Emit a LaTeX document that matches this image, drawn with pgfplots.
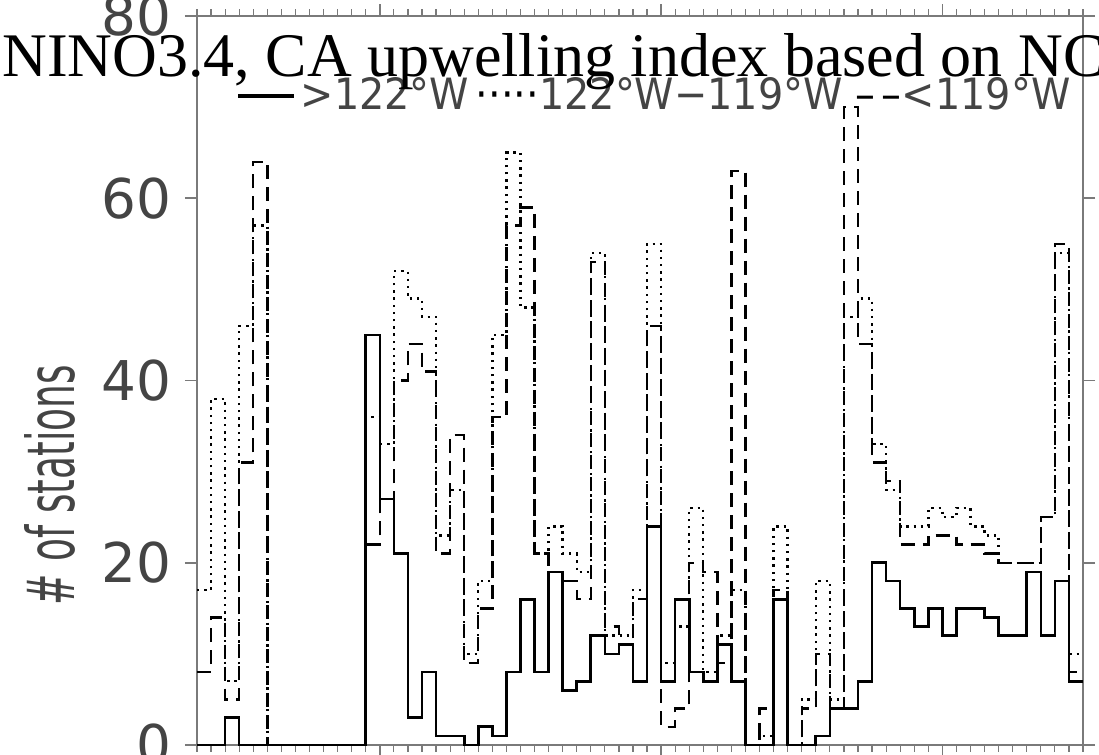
\documentclass[border=0pt]{standalone}
\usepackage{graphicx}
\usepackage{pgfplots}
\usepackage{pgfplotstable}
\pgfplotsset{compat=1.18}
\usepackage{fontspec}
\setmainfont{Liberation Serif}
\newfontfamily\dvs{DejaVu Sans}
\definecolor{framegray}{HTML}{7A7A7A}
\definecolor{labgray}{HTML}{444444}

\pgfplotstableread{
x solid dotted dashed
0 0 17 8
1 0 38 14
2 3 7 5
3 0 46 31
4 0 57 64
5 0 0 0
6 0 0 0
7 0 0 0
8 0 0 0
9 0 0 0
10 0 0 0
11 0 0 0
12 45 36 22
13 27 33 27
14 21 52 40
15 3 49 44
16 8 47 41
17 1 23 21
18 1 28 34
19 0 10 9
20 2 18 15
21 1 45 36
22 8 65 57
23 16 48 59
24 8 21 21
25 19 24 19
26 6 21 18
27 7 19 16
28 12 54 53
29 10 12 13
30 11 12 11
31 7 17 16
32 24 55 46
33 7 9 2
34 16 13 4
35 8 26 20
36 7 8 19
37 11 12 9
38 7 17 63
39 0 0 0
40 0 1 4
41 16 24 17
42 0 0 0
43 0 5 4
44 1 18 10
45 4 5 4
46 4 47 70
47 7 49 44
48 20 33 31
49 18 28 29
50 15 24 22
51 13 24 22
52 15 26 23
53 12 25 23
54 15 26 22
55 15 24 22
56 14 23 21
57 12 20 20
58 12 20 20
59 19 20 20
60 12 25 25
61 18 54 55
62 7 10 8
63 7 10 8
}\data

\begin{document}
\begin{tikzpicture}
\useasboundingbox (0,0) rectangle (549.5pt,377.5pt);
\begin{axis}[
  at={(98.5pt,5pt)}, anchor=south west,
  scale only axis, width=443pt, height=364.5pt,
  xmin=0, xmax=63, ymin=0, ymax=80,
  xtick={13,33,53}, xticklabels={},
  minor xtick={0,1,...,63},
  ytick={0,20,40,60,80},
  tick align=outside,
  major tick length=6pt, minor tick length=3.5pt,
  axis line style={framegray, line width=1.1pt},
  every tick/.style={framegray, line width=0.8pt},
  every minor tick/.style={framegray, line width=0.6pt},
  /pgf/number format/assume math mode=true,
  yticklabel style={font=\dvs\fontsize{27.4}{28}\selectfont, text=labgray, xshift=-3.5pt},
  clip=false,
]
\addplot[const plot, black, line width=1.2pt, dash pattern=on 1.2pt off 2.4pt] table[x=x,y=dotted]{\data};
\addplot[const plot, black, line width=1.2pt, dash pattern=on 7pt off 4pt] table[x=x,y=dashed]{\data};
\addplot[const plot, black, line width=1.3pt] table[x=x,y=solid]{\data};
\end{axis}
\node[rotate=90, inner sep=0pt, text=labgray] at (25pt,135pt)
  {\resizebox{120pt}{25pt}{\dvs \# of stations}};
\node[anchor=base west, inner sep=0pt, text=labgray] at (119pt,322.5pt)
  {\resizebox{416pt}{16pt}{\dvs\fontsize{22}{22}\selectfont
   \textcolor{black}{\rule[0.28em]{1.4em}{0.09em}}\,>122°W\,\textcolor{black}{·····}122°W−119°W\ \textcolor{black}{–\,–}<119°W}};
\node[anchor=base west, inner sep=0pt, font=\fontsize{31}{31}\selectfont] at (1pt,339pt)
  {NINO3.4, CA upwelling index based on NC};
\end{tikzpicture}
\end{document}
